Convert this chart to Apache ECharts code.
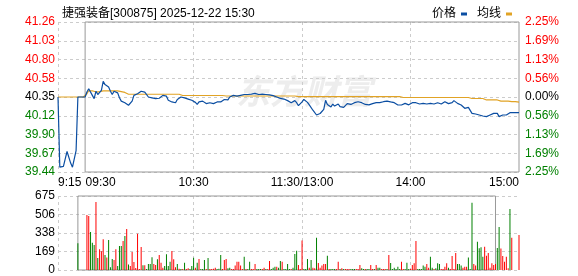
<!DOCTYPE html>
<html><head><meta charset="utf-8">
<script src="https://cdn.jsdelivr.net/npm/echarts@6/dist/echarts.min.js"></script>
<style>html,body{margin:0;padding:0;background:#fff}#c{width:578px;height:276px}</style>
</head><body><div id="c"></div>
<script>
const titleText = '捷强装备[300875] 2025-12-22 15:30';
const watermark = '东方财富';
const seriesNames = ['价格', '均线'];
const prevClose = 40.35;
const priceMin = 39.442, priceMax = 41.258, priceStep = 0.227;
const pctMin = -2.25, pctMax = 2.25, pctStep = 0.5625;
const volMax = 675, volStep = 168.75;
const tickLabels = ['9:15', '09:30', '10:30', '11:30/13:00', '14:00', '15:00'];
const gridLabels = ['9:15', '10:30', '11:30/13:00', '14:00'];
const boxStart = '09:30', boxEnd = '15:00';

// minute categories: 9:15-9:29 call auction, 09:30-11:30, 13:01-15:00
const categories = [];
for (let m = 15; m < 30; m++) categories.push('9:' + String(m).padStart(2, '0'));
for (let t = 9 * 60 + 30; t <= 11 * 60 + 30; t++) {
  const h = Math.floor(t / 60), mm = t % 60;
  categories.push(String(h).padStart(2, '0') + ':' + String(mm).padStart(2, '0'));
}
categories[categories.length - 1] = '11:30/13:00';
for (let t = 13 * 60 + 1; t <= 15 * 60; t++) {
  const h = Math.floor(t / 60), mm = t % 60;
  categories.push(String(h).padStart(2, '0') + ':' + String(mm).padStart(2, '0'));
}

const price = [
40.35,39.50,39.52,39.51,39.60,39.69,39.69,39.55,39.50,39.52,
39.70,40.35,40.35,40.35,40.35,40.35,40.41,40.45,40.44,40.37,
40.33,40.42,40.38,40.39,40.43,40.54,40.50,40.52,40.47,40.42,
40.38,40.42,40.43,40.40,40.34,40.30,40.31,40.28,40.30,40.25,
40.23,40.30,40.37,40.36,40.39,40.37,40.42,40.42,40.41,40.39,
40.35,40.345,40.34,40.335,40.33,40.33,40.335,40.34,40.37,40.39,
40.36,40.31,40.30,40.29,40.285,40.28,40.32,40.34,40.35,40.35,
40.34,40.33,40.325,40.34,40.31,40.295,40.285,40.26,40.29,40.29,
40.30,40.29,40.27,40.275,40.28,40.275,40.27,40.285,40.29,40.28,
40.29,40.30,40.32,40.33,40.315,40.35,40.345,40.37,40.37,40.36,
40.355,40.37,40.365,40.38,40.39,40.38,40.375,40.385,40.378,40.394,
40.374,40.38,40.375,40.385,40.375,40.38,40.38,40.375,40.376,40.366,
40.374,40.35,40.342,40.334,40.33,40.325,40.314,40.306,40.293,40.281,
40.293,40.306,40.281,40.245,40.255,40.29,40.32,40.31,40.285,40.255,
40.24,40.19,40.172,40.132,40.125,40.15,40.16,40.20,40.31,40.26,
40.27,40.23,40.265,40.24,40.233,40.265,40.233,40.253,40.225,40.233,
40.27,40.26,40.26,40.281,40.281,40.29,40.293,40.285,40.281,40.275,
40.26,40.265,40.255,40.265,40.27,40.281,40.281,40.293,40.281,40.289,
40.293,40.281,40.30,40.306,40.29,40.273,40.281,40.265,40.253,40.241,
40.253,40.265,40.273,40.26,40.255,40.27,40.281,40.293,40.281,40.281,
40.265,40.281,40.273,40.281,40.265,40.281,40.273,40.253,40.265,40.273,
40.281,40.273,40.265,40.273,40.293,40.28,40.27,40.253,40.281,40.306,
40.293,40.273,40.265,40.253,40.233,40.213,40.213,40.225,40.201,40.152,
40.16,40.144,40.152,40.132,40.12,40.12,40.104,40.112,40.12,40.132,
40.144,40.152,40.16,40.152,40.112,40.12,40.132,40.12,40.132,40.152,
40.16,40.16,40.16,40.16,40.16,40.16
];

const avgPrice = [
40.35,40.35,40.35,40.35,40.35,40.35,40.35,40.35,40.35,40.35,
40.35,40.35,40.35,40.35,40.35,40.35,40.39,40.425,40.43,40.425,
40.415,40.41,40.41,40.415,40.42,40.425,40.425,40.425,40.425,40.425,
40.425,40.425,40.425,40.425,40.42,40.415,40.41,40.405,40.395,40.383,
40.383,40.383,40.383,40.383,40.383,40.383,40.383,40.383,40.383,40.383,
40.383,40.383,40.383,40.383,40.383,40.383,40.383,40.383,40.383,40.383,
40.383,40.383,40.383,40.383,40.383,40.383,40.383,40.383,40.368,40.368,
40.368,40.368,40.368,40.368,40.368,40.368,40.368,40.368,40.368,40.368,
40.368,40.368,40.368,40.368,40.368,40.368,40.368,40.368,40.368,40.368,
40.368,40.368,40.362,40.362,40.362,40.362,40.362,40.362,40.362,40.362,
40.362,40.362,40.362,40.362,40.362,40.362,40.362,40.362,40.362,40.362,
40.362,40.362,40.362,40.362,40.362,40.362,40.362,40.362,40.362,40.362,
40.362,40.362,40.362,40.362,40.362,40.362,40.362,40.362,40.362,40.362,
40.362,40.362,40.362,40.354,40.354,40.354,40.354,40.354,40.354,40.354,
40.354,40.354,40.354,40.354,40.354,40.354,40.354,40.354,40.354,40.354,
40.354,40.354,40.354,40.354,40.354,40.354,40.354,40.354,40.354,40.354,
40.354,40.354,40.354,40.354,40.354,40.354,40.354,40.354,40.354,40.354,
40.354,40.354,40.354,40.354,40.354,40.354,40.354,40.354,40.354,40.354,
40.354,40.354,40.354,40.354,40.354,40.354,40.354,40.354,40.354,40.354,
40.354,40.344,40.344,40.344,40.344,40.344,40.344,40.344,40.344,40.344,
40.344,40.344,40.344,40.344,40.344,40.344,40.344,40.344,40.344,40.344,
40.344,40.344,40.344,40.344,40.344,40.344,40.344,40.344,40.344,40.344,
40.344,40.344,40.344,40.344,40.344,40.344,40.344,40.344,40.344,40.332,
40.332,40.332,40.332,40.332,40.332,40.332,40.332,40.314,40.314,40.314,
40.314,40.314,40.314,40.314,40.314,40.30,40.30,40.30,40.30,40.30,
40.30,40.295,40.295,40.295,40.287,40.287
];

const volume = [
null,null,null,null,null,null,null,null,null,null,
null,245,null,null,null,null,502,492,347,249,
228,620,110,189,170,280,137,115,274,26,
100,91,189,36,219,219,265,310,374,50,
36,164,73,18,331,10,210,43,43,8,
55,55,116,55,46,97,137,67,21,36,
143,36,76,173,97,24,55,12,8,8,
67,8,15,10,36,112,20,67,100,8,
8,91,10,109,8,8,12,20,10,12,
137,9,91,100,15,21,9,9,40,76,
76,40,9,122,9,9,76,9,9,55,
9,9,9,9,21,9,9,82,9,21,
30,30,21,82,76,9,9,55,9,9,
21,146,176,46,9,268,9,9,100,21,
91,21,15,295,64,21,40,55,55,131,
9,9,9,9,9,76,9,15,9,9,
9,9,9,9,9,9,9,46,15,9,
9,9,9,46,9,9,46,21,21,9,
9,9,9,137,64,9,21,9,30,9,
76,9,9,67,9,9,46,61,265,9,
9,9,40,30,55,21,122,21,9,15,
61,55,9,9,30,61,21,9,128,9,
155,55,55,40,21,30,30,113,9,614,
55,40,258,198,207,122,213,131,155,21,
61,46,55,201,392,196,128,76,122,15,
556,295,null,null,null,319
];

// 1 = up minute (red), 0 = down minute (green)
const volumeUp = [
0,0,0,0,0,0,0,0,0,0,
0,0,0,0,0,0,1,1,0,0,
0,1,0,1,1,1,0,1,0,0,
0,1,1,0,0,0,1,0,1,0,
1,1,1,1,1,1,1,0,1,0,
0,0,0,1,1,0,1,1,1,0,
0,0,0,1,1,1,0,1,0,1,
0,1,1,0,0,0,1,0,1,0,
0,0,1,0,1,1,1,1,0,0,
0,1,1,1,0,0,1,1,1,1,
1,1,1,0,1,0,0,1,1,1,
0,0,0,1,1,0,1,1,0,0,
0,1,0,0,1,0,0,0,0,1,
0,0,0,1,1,1,0,0,0,1,
0,1,1,0,1,1,1,1,1,0,
1,0,0,0,1,1,0,1,0,1,
1,1,0,0,0,1,1,1,0,0,
1,0,0,1,1,0,1,0,0,1,
1,1,0,1,0,0,0,0,0,0,
1,1,0,0,0,1,1,1,1,0,
0,0,0,0,1,1,0,0,1,0,
0,0,1,1,1,1,0,1,1,1,
1,0,0,0,1,1,1,0,0,0,
1,1,0,0,0,0,1,1,1,1,
1,1,1,0,0,1,1,1,1,1,
0,1,0,0,0,1
];

const FONT = "'Liberation Sans', 'Noto Sans CJK SC', sans-serif";
const RED = '#ff0000', GREEN = '#008000', GRIDC = '#cccccc', BOXC = '#999999';
const PRICE_C = '#0b4ea2', AVG_C = '#e1a325';
const dash = {color: GRIDC, type: [3, 3], width: 1};

const colorBySign = (d) => d > 1e-9 ? RED : (d < -1e-9 ? GREEN : '#000000');
const boxArea = {
  silent: true,
  itemStyle: {color: 'rgba(0,0,0,0)', borderColor: BOXC, borderWidth: 1},
  data: [[{xAxis: boxStart}, {xAxis: boxEnd}]]
};

const volData = volume.map((v, i) => v == null ? null : {
  value: v, itemStyle: {color: volumeUp[i] ? RED : GREEN}
});

const chart = echarts.init(document.getElementById('c'));
chart.setOption({
  animation: false,
  backgroundColor: '#fff',
  title: {text: titleText, left: 57, top: 3,
    textStyle: {fontSize: 12, fontWeight: 'normal', color: '#000', fontFamily: FONT}},
  legend: {data: seriesNames, right: 61, top: 3, align: 'right', icon: 'rect',
    itemWidth: 6, itemHeight: 3, itemGap: 10,
    textStyle: {fontSize: 12, color: '#000', fontFamily: FONT}},
  graphic: [{type: 'text', left: 236, top: 74, z: 0, silent: true,
    style: {text: watermark, fill: '#ededed',
      font: "italic bold 34px 'Noto Sans CJK SC'"}}],
  grid: [
    {left: 58, right: 59, top: 22, bottom: 104},
    {left: 58, right: 59, top: 196, bottom: 6}
  ],
  xAxis: [
    {type: 'category', gridIndex: 0, data: categories, boundaryGap: false,
      axisLine: {show: false}, axisTick: {show: false},
      axisLabel: {interval: (i, v) => tickLabels.includes(v), fontSize: 12, color: '#000',
        fontFamily: FONT, margin: 5, alignMinLabel: 'left', alignMaxLabel: 'right',
        formatter: v => v === boxStart ? '{a|' + v + '}' : v,
        rich: {a: {padding: [0, 0, 0, 31], fontSize: 12, fontFamily: FONT, color: '#000'}}},
      splitLine: {show: true, interval: (i, v) => gridLabels.includes(v), lineStyle: dash}},
    {type: 'category', gridIndex: 1, data: categories, boundaryGap: false,
      axisLine: {show: false}, axisTick: {show: false}, axisLabel: {show: false},
      splitLine: {show: true, interval: (i, v) => gridLabels.includes(v), lineStyle: dash}}
  ],
  yAxis: [
    {type: 'value', gridIndex: 0, min: priceMin, max: priceMax, interval: priceStep,
      axisLine: {show: false}, axisTick: {show: false},
      axisLabel: {formatter: v => Number(v).toFixed(2), fontSize: 12, margin: 3, fontFamily: FONT,
        color: v => colorBySign(parseFloat(v) - prevClose)},
      splitLine: {lineStyle: dash}},
    {type: 'value', gridIndex: 0, position: 'right', min: pctMin, max: pctMax, interval: pctStep,
      axisLine: {show: false}, axisTick: {show: false},
      axisLabel: {formatter: v => Math.abs(v).toFixed(2) + '%', fontSize: 12, margin: 6, fontFamily: FONT,
        color: v => colorBySign(parseFloat(v))},
      splitLine: {show: false}},
    {type: 'value', gridIndex: 1, min: 0, max: volMax, interval: volStep,
      axisLine: {show: false}, axisTick: {show: false},
      axisLabel: {formatter: v => String(Math.round(v)), fontSize: 12, margin: 3, fontFamily: FONT, color: '#000'},
      splitLine: {lineStyle: dash}}
  ],
  series: [
    {name: seriesNames[0], type: 'line', xAxisIndex: 0, yAxisIndex: 0, data: price,
      showSymbol: false, symbol: 'none', z: 4,
      lineStyle: {color: PRICE_C, width: 1.2}, itemStyle: {color: PRICE_C},
      markArea: boxArea},
    {name: seriesNames[1], type: 'line', xAxisIndex: 0, yAxisIndex: 0, data: avgPrice,
      showSymbol: false, symbol: 'none', z: 3,
      lineStyle: {color: AVG_C, width: 1.2}, itemStyle: {color: AVG_C}},
    {name: 'volume', type: 'bar', xAxisIndex: 1, yAxisIndex: 2, data: volData,
      barWidth: 1, markArea: boxArea}
  ]
});
</script>
</body></html>
